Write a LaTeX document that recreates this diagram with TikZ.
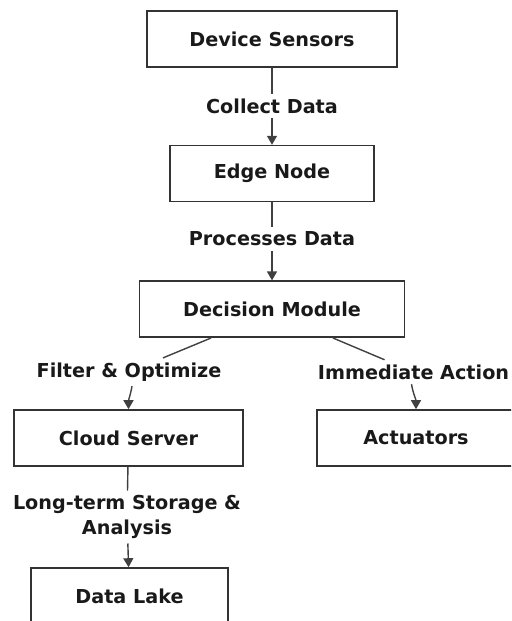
\documentclass[tikz,border=0pt]{standalone}
\usepackage{fontspec}
\setmainfont{DejaVu Sans}
\usepackage{tikz}
\usetikzlibrary{positioning,arrows.meta}

\tikzset{
    stage/.style={draw=black!80, line width=0.8pt, minimum height=28pt, inner sep=0pt, font=\bfseries\fontsize{9.6}{11}\selectfont, text=black!90},
    flowlbl/.style={inner xsep=2pt, inner ysep=2.2pt, font=\bfseries\fontsize{9.6}{12.5}\selectfont, text=black!90, align=center},
    link/.style={draw=black!75, line width=0.7pt},
    >={Triangle[length=4.5pt,width=5pt]}
}

\begin{document}
\begin{tikzpicture}[x=0.5pt, y=0.5pt]
    \useasboundingbox (0,0) rectangle (511,-621);
    \clip (0,0) rectangle (511,-621);

    % boxes
    \node [stage, minimum width=125pt] (ds) at (272,-39) {Device Sensors};
    \node [stage, minimum width=102pt, below=38.5pt of ds] (en) {Edge Node};
    \node [stage, minimum width=132.5pt, below=39pt of en] (dm) {Decision Module};
    \node [stage, minimum width=114.5pt] (cs) at (128.5,-438) {Cloud Server};
    \node [stage, minimum width=99pt] (act) at (416,-438) {Actuators};
    \node [stage, minimum width=98.5pt] (dl) at (129.5,-596) {Data Lake};

    % edge labels
    \node [flowlbl] (cd) at (272,-106) {Collect Data};
    \node [flowlbl] (pd) at (272,-239) {Processes Data};
    \node [flowlbl] (fo) at (129,-372) {Filter \& Optimize};
    \node [flowlbl] (ia) at (413.5,-372) {Immediate Action};
    \node [flowlbl] (lt) at (127,-517) {Long-term Storage \&\\Analysis};

    % connectors
    \draw [link] (ds) -- (cd);
    \draw [link, ->] (cd) -- (en);
    \draw [link] (en) -- (pd);
    \draw [link, ->] (pd) -- (dm);
    \draw [link] ([xshift=-30.5pt]dm.south) -- (fo);
    \draw [link, ->] ([xshift=1.5pt]fo.south) to[out=-100, in=90] (cs.north);
    \draw [link] ([xshift=30.5pt]dm.south) -- (ia);
    \draw [link, ->] ([xshift=-1pt]ia.south) to[out=-80, in=90] (act.north);
    \draw [link] (cs) -- (lt);
    \draw [link, ->] (lt) -- (dl);
\end{tikzpicture}
\end{document}
